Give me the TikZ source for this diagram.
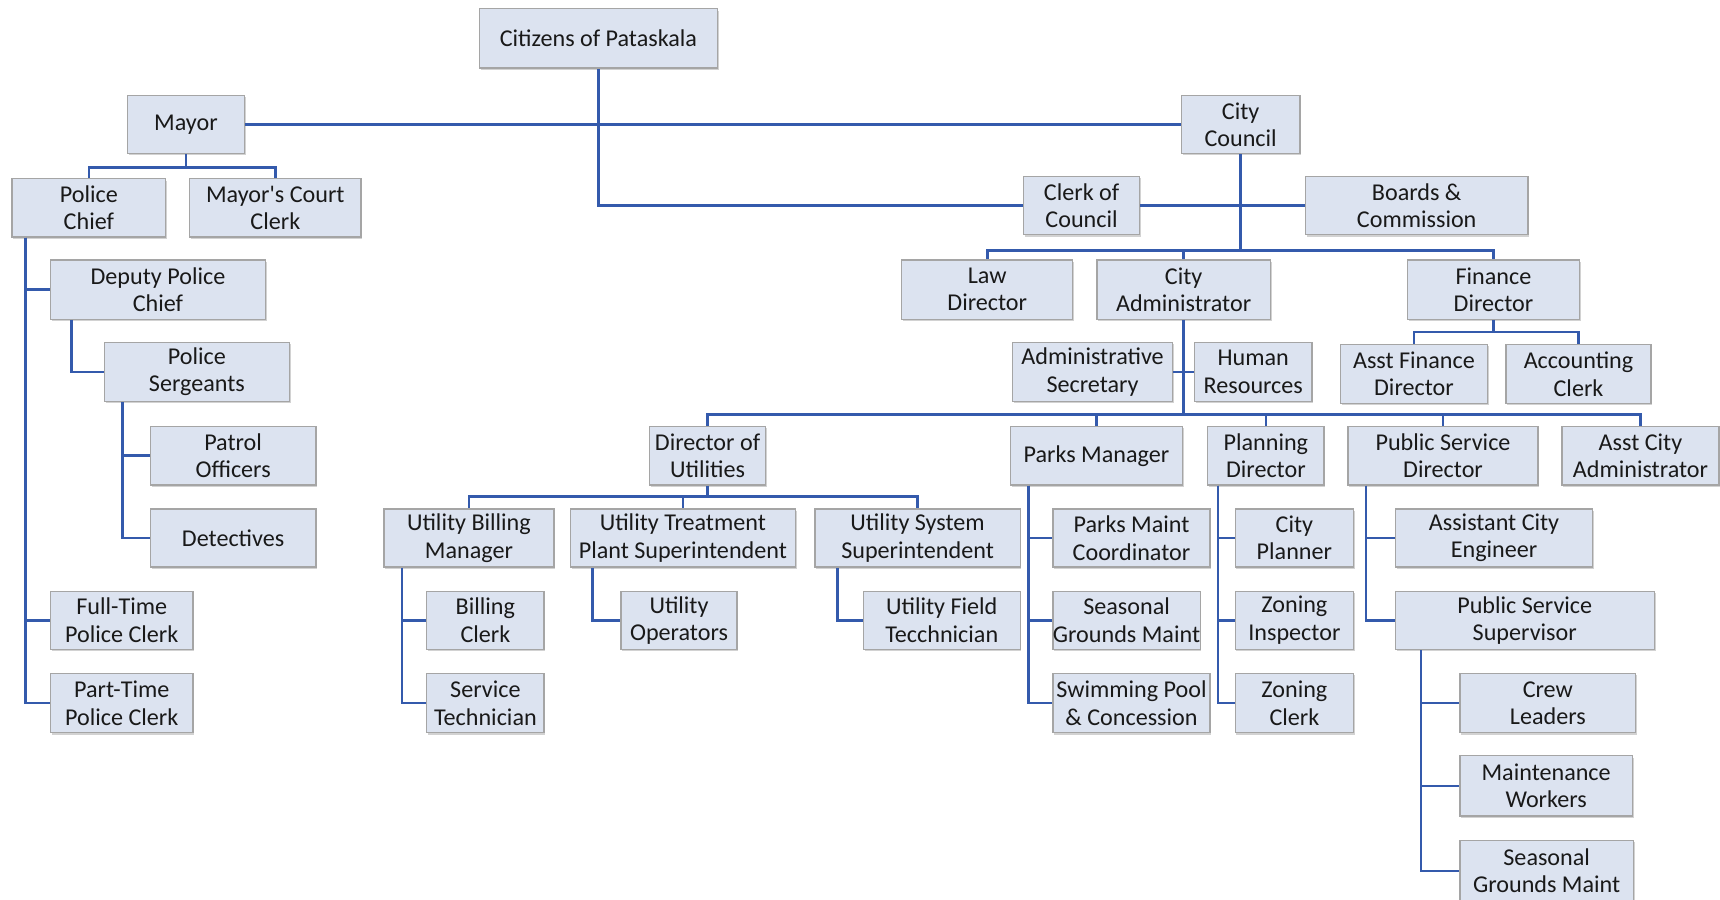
\documentclass[tikz,border=0pt]{standalone}
\usepackage{fontspec}
\setmainfont{Carlito}
\newfontfamily\plainfont{Carlito}
\usetikzlibrary{shadows,calc}
\definecolor{boxfill}{RGB}{220,227,240}
\definecolor{boxline}{RGB}{165,165,165}
\definecolor{conncol}{RGB}{52,90,172}
\definecolor{txtcol}{RGB}{25,25,25}
\tikzset{
  orgb/.style={draw=boxline, fill=boxfill, line width=1.2pt, inner sep=0pt, align=center,
    font=\fontsize{22}{25}\selectfont, text=txtcol,
    drop shadow={shadow xshift=1.2pt, shadow yshift=-1.6pt, fill=black!35, opacity=0.5}},
  conn/.style={draw=conncol, line width=2.4pt}
}
\newcommand\orgbox[6]{\node[orgb, minimum width={(#4)-(#2)}, minimum height={(#5)-(#3)}] (#1) at ({((#2)+(#4))/2},{((#3)+(#5))/2}) {#6};}
\begin{document}
\begin{tikzpicture}[x=1pt,y=-1pt]
\useasboundingbox (0,0) rectangle (1568,820);
% boxes
\orgbox{cit}{437}{8}{654}{62}{Citizens of Pataskala}
\orgbox{mayor}{116}{87}{223}{140}{Mayor}
\orgbox{council}{1077}{87}{1185}{140}{City\\Council}
\orgbox{pchief}{11}{163}{151}{216}{Police\\Chief}
\orgbox{mcc}{173}{163}{329}{216}{{\plainfont Mayor's} Court\\Clerk}
\orgbox{clerk}{933}{161}{1039}{214}{Clerk of\\Council}
\orgbox{boards}{1190}{161}{1393}{214}{Boards \&\\Commission}
\orgbox{law}{822}{237}{978}{291}{Law\\Director}
\orgbox{ca}{1000}{237}{1158}{291}{City\\Administrator}
\orgbox{fin}{1283}{237}{1440}{291}{Finance\\Director}
\orgbox{dpc}{46}{237}{242}{291}{Deputy Police\\Chief}
\orgbox{serg}{95}{312}{264}{366}{Police\\Sergeants}
\orgbox{adm}{923}{312}{1069}{366}{Administrative\\Secretary}
\orgbox{hr}{1089}{312}{1196}{366}{Human\\Resources}
\orgbox{afd}{1222}{314}{1356}{368}{Asst Finance\\Director}
\orgbox{acc}{1373}{314}{1505}{368}{Accounting\\Clerk}
\orgbox{patrol}{137}{389}{288}{442}{Patrol\\Officers}
\orgbox{dou}{592}{389}{698}{442}{Director of\\Utilities}
\orgbox{parks}{921}{389}{1078}{442}{Parks Manager}
\orgbox{plan}{1101}{389}{1207}{442}{Planning\\Director}
\orgbox{psd}{1229}{389}{1402}{442}{Public Service\\Director}
\orgbox{aca}{1424}{389}{1567}{442}{Asst City\\Administrator}
\orgbox{det}{137}{464}{288}{517}{Detectives}
\orgbox{ubm}{350}{464}{505}{517}{Utility Billing\\Manager}
\orgbox{utps}{520}{464}{725}{517}{Utility Treatment\\Plant Superintendent}
\orgbox{uss}{743}{464}{930}{517}{Utility System\\Superintendent}
\orgbox{pmc}{960}{464}{1103}{517}{Parks Maint\\Coordinator}
\orgbox{cplan}{1126}{464}{1234}{517}{City\\Planner}
\orgbox{ace}{1272}{464}{1452}{517}{Assistant City\\Engineer}
\orgbox{ftc}{46}{539}{176}{592}{Full-Time\\Police Clerk}
\orgbox{ptc}{46}{614}{176}{668}{Part-Time\\Police Clerk}
\orgbox{bclerk}{389}{539}{496}{592}{Billing\\Clerk}
\orgbox{uop}{566}{539}{672}{592}{Utility\\Operators}
\orgbox{uft}{787}{539}{930}{592}{Utility Field\\Tecchnician}
\orgbox{sgm}{960}{539}{1094}{592}{Seasonal\\Grounds Maint}
\orgbox{zins}{1126}{539}{1234}{592}{Zoning\\Inspector}
\orgbox{pss}{1272}{539}{1508}{592}{Public Service\\Supervisor}
\orgbox{stech}{389}{614}{496}{668}{Service\\Technician}
\orgbox{pool}{960}{614}{1103}{668}{Swimming Pool\\\& Concession}
\orgbox{zclerk}{1126}{614}{1234}{668}{Zoning\\Clerk}
\orgbox{crew}{1331}{614}{1491}{668}{Crew\\Leaders}
\orgbox{maint}{1331}{689}{1488}{744}{Maintenance\\Workers}
\orgbox{sgm2}{1331}{766}{1489}{822}{Seasonal\\Grounds Maint}
% connectors
\begin{scope}[conn]
\draw (mayor.east) -- (council.west);
\draw (cit.south) |- (clerk.west);
\draw (clerk.east) -- (boards.west);
% mayor
\coordinate (mbus) at ($(mayor.south)+(0,12)$);
\draw (mayor.south) -- (mbus);
\draw (mbus) -| (pchief.north);
\draw (mbus) -| (mcc.north);
% council
\coordinate (cbus) at ($(council.south)+(0,88)$);
\draw (council.south) -- (cbus);
\draw (cbus) -| (law.north);
\draw (cbus) -| (ca.north);
\draw (cbus) -| (fin.north);
% finance
\coordinate (fbus) at ($(fin.south)+(0,11)$);
\draw (fin.south) -- (fbus);
\draw (fbus) -| (afd.north);
\draw (fbus) -| (acc.north);
% city admin
\coordinate (abus) at ($(ca.south)+(0,86)$);
\draw (ca.south) -- (abus);
\draw (adm.east) -- (hr.west);
\draw (abus) -| (dou.north);
\draw (abus) -| (parks.north);
\draw (abus) -| (plan.north);
\draw (abus) -| (psd.north);
\draw (abus) -| (aca.north);
% director of utilities
\coordinate (ubus) at ($(dou.south)+(0,10)$);
\draw (dou.south) -- (ubus);
\draw (ubus) -| (ubm.north);
\draw (ubus) -| (utps.north);
\draw (ubus) -| (uss.north);
% police chief
\coordinate (pc0) at ([xshift=13pt]pchief.south west);
\draw (pc0) |- (dpc.west);
\draw (pc0) |- (ftc.west);
\draw (pc0) |- (ptc.west);
\coordinate (dp0) at ([xshift=20pt]dpc.south west);
\draw (dp0) |- (serg.west);
\coordinate (sg0) at ([xshift=17pt]serg.south west);
\draw (sg0) |- (patrol.west);
\draw (sg0) |- (det.west);
% utilities subtrees
\coordinate (ub0) at ([xshift=17pt]ubm.south west);
\draw (ub0) |- (bclerk.west);
\draw (ub0) |- (stech.west);
\coordinate (ut0) at ([xshift=21pt]utps.south west);
\draw (ut0) |- (uop.west);
\coordinate (us0) at ([xshift=21pt]uss.south west);
\draw (us0) |- (uft.west);
% parks
\coordinate (pk0) at ([xshift=17pt]parks.south west);
\draw (pk0) |- (pmc.west);
\draw (pk0) |- (sgm.west);
\draw (pk0) |- (pool.west);
% planning
\coordinate (pl0) at ([xshift=10pt]plan.south west);
\draw (pl0) |- (cplan.west);
\draw (pl0) |- (zins.west);
\draw (pl0) |- (zclerk.west);
% public service
\coordinate (ps0) at ([xshift=17pt]psd.south west);
\draw (ps0) |- (ace.west);
\draw (ps0) |- (pss.west);
\coordinate (pv0) at ([xshift=24pt]pss.south west);
\draw (pv0) |- (crew.west);
\draw (pv0) |- (maint.west);
\draw (pv0) |- (sgm2.west);
\end{scope}
\end{tikzpicture}
\end{document}
